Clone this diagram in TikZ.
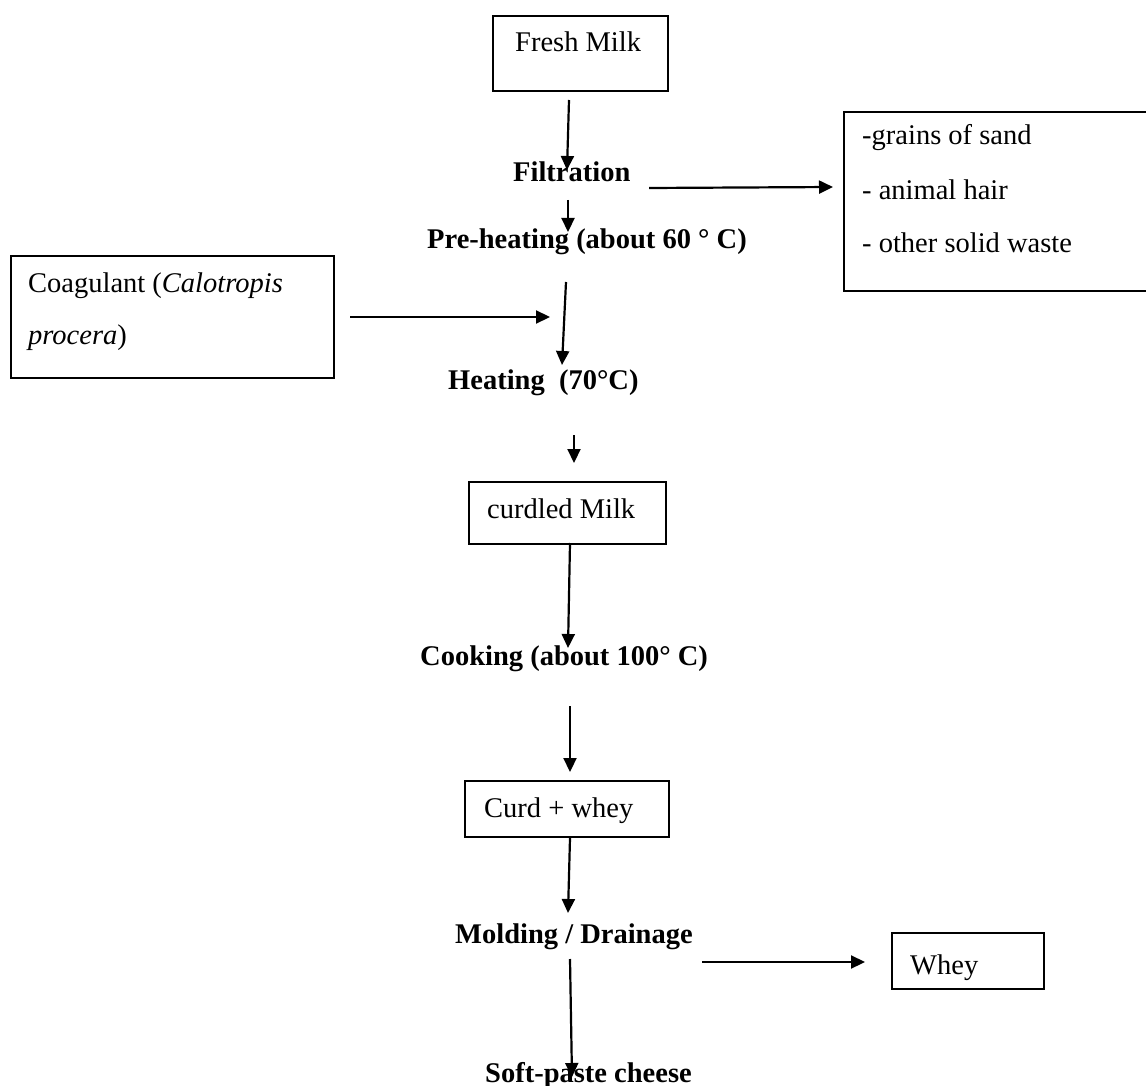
\documentclass[tikz,border=0pt]{standalone}
\usepackage{fontspec}
\setmainfont{Liberation Serif}
\usetikzlibrary{arrows.meta}
\begin{document}
\begin{tikzpicture}[
  x=1pt, y=-1pt,
  txt/.style={inner sep=0pt, anchor=base west, font=\fontsize{28.5}{34}\selectfont},
  btxt/.style={inner sep=0pt, anchor=base west, font=\fontsize{28.5}{34}\selectfont\bfseries},
  box/.style={draw, line width=1.8pt, inner sep=0pt, anchor=north west},
  arr/.style={line width=2.2pt, -{Triangle[length=14pt,width=13pt]}}
]
\useasboundingbox (0,0) rectangle (1146,1086);

% boxes
\node[box, minimum width=175pt, minimum height=75pt] (fresh) at (492,15) {};
\node[box, minimum width=320pt, minimum height=179pt] (waste) at (843,111) {};
\node[box, minimum width=323pt, minimum height=122pt] (coag) at (10,255) {};
\node[box, minimum width=197pt, minimum height=62pt] (curdled) at (468,481) {};
\node[box, minimum width=204pt, minimum height=56pt] (curdwhey) at (464,780) {};
\node[box, minimum width=152pt, minimum height=56pt] (whey) at (891,932) {};

% texts
\node[txt] (tFresh) at (515,52) {Fresh Milk};
\node[btxt] (tFilt) at (513,182) {Filtration};
\node[btxt] (tPre) at (427,248) {Pre-heating (about 60 ° C)};
\node[txt] (tSand) at (862,145) {-grains of sand};
\node[txt] (tHair) at (862,200) {- animal hair};
\node[txt] (tOther) at (862,252) {- other solid waste};
\node[txt] (tCoagA) at (28,292) {Coagulant (\textit{Calotropis}};
\node[txt] (tCoagB) at (28,344) {\textit{procera})};
\node[btxt] (tHeat) at (448,389) {Heating\ \ (70°C)};
\node[txt] (tCurdled) at (487,518) {curdled Milk};
\node[btxt] (tCook) at (420,665) {Cooking (about 100° C)};
\node[txt] (tCurdWhey) at (484,817) {Curd + whey};
\node[btxt] (tMold) at (455,943) {Molding / Drainage};
\node[txt] (tWhey) at (910,974) {Whey};
\node[btxt] (tSoft) at (485,1082) {Soft-paste cheese};

% connector end points
\coordinate (a1s) at (569,100);  \coordinate (a1e) at (567,170);
\coordinate (a2s) at (568,200);  \coordinate (a2e) at (568,232);
\coordinate (aFs) at (649,188);  \coordinate (aFe) at (833,187);
\coordinate (a3s) at (566,282);  \coordinate (a3e) at (562,365);
\coordinate (aCs) at (350,317);  \coordinate (aCe) at (550,317);
\coordinate (a4s) at (574,435);  \coordinate (a4e) at (574,463);
\coordinate (a5s) at (570,543);  \coordinate (a5e) at (568,648);
\coordinate (a6s) at (570,706);  \coordinate (a6e) at (570,772);
\coordinate (a7s) at (570,838);  \coordinate (a7e) at (568,913);
\coordinate (aWs) at (702,962);  \coordinate (aWe) at (865,962);
\coordinate (a8s) at (570,959);  \coordinate (a8e) at (572,1077);

\draw[arr] (a1s) -- (a1e);
\draw[arr] (a2s) -- (a2e);
\draw[arr] (aFs) -- (aFe);
\draw[arr] (a3s) -- (a3e);
\draw[arr] (aCs) -- (aCe);
\draw[arr] (a4s) -- (a4e);
\draw[arr] (a5s) -- (a5e);
\draw[arr] (a6s) -- (a6e);
\draw[arr] (a7s) -- (a7e);
\draw[arr] (aWs) -- (aWe);
\draw[arr] (a8s) -- (a8e);
\end{tikzpicture}
\end{document}
